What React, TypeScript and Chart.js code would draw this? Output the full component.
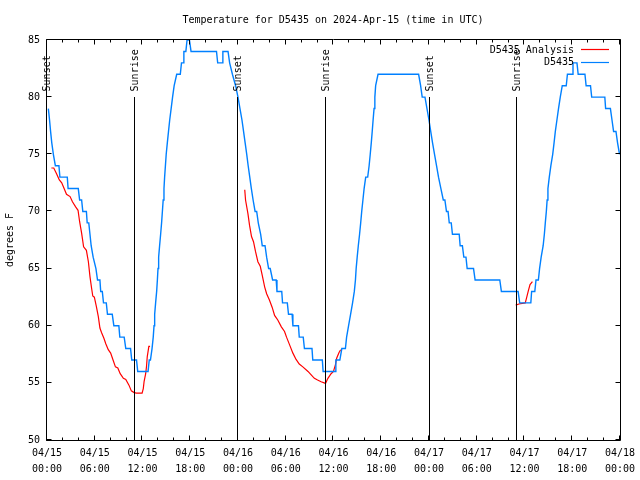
import React, { useEffect, useRef } from 'react';
import { Chart, registerables } from 'chart.js';

Chart.register(...registerables);

const FONT = "'DejaVu Sans Mono', monospace";
const TITLE = 'Temperature for D5435 on 2024-Apr-15 (time in UTC)';
const Y_TITLE = 'degrees F';
const SERIES_NAMES = ['D5435 Analysis', 'D5435'];
const SERIES_COLORS = ['rgb(255,0,0)', 'rgb(0,128,255)'];

const X_TICK_DATES = ['04/15', '04/15', '04/15', '04/15', '04/16', '04/16', '04/16', '04/16', '04/17', '04/17', '04/17', '04/17', '04/18'];
const X_TICK_TIMES = ['00:00', '06:00', '12:00', '18:00', '00:00', '06:00', '12:00', '18:00', '00:00', '06:00', '12:00', '18:00', '00:00'];

// Sun events (hours since 04/15 00:00 UTC)
const SUN_HOURS = [0, 11.08, 24.0, 35.0, 48.12, 59.07];
const SUN_LABELS = ['Sunset', 'Sunrise', 'Sunset', 'Sunrise', 'Sunset', 'Sunrise'];
const SUN_LINE_TOP = 80;
const SUN_LABEL_AT = 80.5;

// Observations D5435 (hours, deg F)
const obsHours = [
  0.17, 0.32, 0.45, 0.6, 0.8, 1.05, 1.5, 1.62, 2.55, 2.65, 3.93, 4.1, 4.35, 4.5, 4.95, 5.05, 5.25, 5.4, 5.55, 5.8,
  6.15, 6.35, 6.65, 6.75, 6.95, 7.1, 7.45, 7.6, 8.2, 8.4, 9.03, 9.15, 9.7, 9.9, 10.5, 10.65, 11.25, 11.4, 12.7, 12.85,
  13.0, 13.2, 13.35, 13.45, 13.53, 13.65, 13.78, 13.87, 13.95, 14.03, 14.15, 14.28, 14.4, 14.5, 14.6, 14.7, 14.78, 14.88, 14.98, 15.12,
  15.27, 15.42, 15.6, 15.78, 15.98, 16.3, 16.75, 16.9, 17.1, 17.2, 17.45, 17.6, 17.9, 18.1, 21.3, 21.45, 22.0, 22.1, 22.75, 22.95,
  23.3, 23.7, 24.0, 24.25, 24.5, 24.7, 24.9, 25.1, 25.28, 25.48, 25.68, 25.9, 26.15, 26.35, 26.55, 26.85, 27.05, 27.4, 27.6, 27.85,
  28.05, 28.35, 28.8, 28.9, 29.5, 29.6, 30.2, 30.35, 30.8, 30.9, 31.6, 31.7, 32.2, 32.35, 33.3, 33.4, 34.6, 34.7, 36.2, 36.3,
  36.8, 37.05, 37.5, 37.65, 37.9, 38.15, 38.4, 38.62, 38.76, 38.85, 38.98, 39.12, 39.28, 39.42, 39.55, 39.7, 39.85, 40.05, 40.3, 40.48,
  40.62, 40.75, 40.87, 40.98, 41.1, 41.2, 41.3, 41.6, 46.7, 46.95, 47.15, 47.5, 47.75, 48.0, 48.22, 48.45, 48.7, 48.95, 49.2, 49.5,
  49.8, 50.0, 50.2, 50.4, 50.55, 50.8, 50.95, 51.8, 51.92, 52.2, 52.38, 52.65, 52.8, 53.6, 53.8, 56.9, 57.1, 59.2, 59.4, 60.8,
  60.9, 61.3, 61.45, 61.75, 61.9, 62.1, 62.35, 62.5, 62.62, 62.75, 62.85, 62.95, 63.12, 63.32, 63.55, 63.72, 63.88, 64.08, 64.28, 64.5,
  64.75, 65.25, 65.4, 66.0, 66.1, 66.6, 66.75, 67.6, 67.75, 68.3, 68.45, 70.1, 70.2, 70.8, 71.0, 71.2, 71.5, 71.7, 71.95,
];
const obsTemps = [
  79, 78, 77, 76, 75, 74, 74, 73, 73, 72, 72, 71, 71, 70, 70, 69, 69, 68, 67, 66,
  65, 64, 64, 63, 63, 62, 62, 61, 61, 60, 60, 59, 59, 58, 58, 57, 57, 56, 56, 57,
  57, 58, 59, 60, 61, 62, 63, 64, 65, 66, 67, 68, 69, 70, 71, 72, 73, 74, 75, 76,
  77, 78, 79, 80, 81, 82, 82, 83, 83, 84, 84, 85, 85, 84, 84, 83, 83, 84, 84, 83,
  82, 81, 80, 79, 78, 77, 76, 75, 74, 73, 72, 71, 70, 70, 69, 68, 67, 67, 66, 65,
  65, 64, 64, 63, 63, 62, 62, 61, 61, 60, 60, 59, 59, 58, 58, 57, 57, 56, 56, 57,
  57, 58, 58, 59, 60, 61, 62, 63, 64, 65, 66, 67, 68, 69, 70, 71, 72, 73, 73, 74,
  75, 76, 77, 78, 79, 80, 81, 82, 82, 81, 80, 80, 79, 78, 77, 76, 75, 74, 73, 72,
  71, 71, 70, 70, 69, 69, 68, 68, 67, 67, 66, 66, 65, 65, 64, 64, 63, 63, 62, 62,
  63, 63, 64, 64, 65, 66, 67, 68, 69, 70, 71, 72, 73, 74, 75, 76, 77, 78, 79, 80,
  81, 81, 82, 82, 83, 83, 82, 82, 81, 81, 80, 80, 79, 79, 78, 77, 77, 76, 75,
];

// Analysis D5435 (hours, deg F); null marks a gap
const anaHours = [
  0.55, 0.85, 1.2, 1.55, 1.85, 2.15, 2.45, 2.9, 3.2, 3.6, 3.9, 4.1, 4.35, 4.6, 4.95, 5.2, 5.4, 5.6, 5.75, 5.95,
  6.2, 6.45, 6.65, 6.85, 7.15, 7.4, 7.7, 8.0, 8.3, 8.6, 8.9, 9.2, 9.6, 9.9, 10.3, 10.6, 10.95, 11.25, 11.95, 12.1,
  12.2, 12.4, 12.5, 12.6, 12.8, 12.95, 18.0,
  24.85, 24.95, 25.25, 25.45, 25.7, 25.95, 26.2, 26.5, 26.8, 27.05, 27.35, 27.6, 27.95, 28.3, 28.6, 29.0, 29.45, 29.85, 30.1, 30.5,
  30.9, 31.3, 31.7, 32.15, 32.8, 33.2, 33.6, 34.0, 34.45, 35.0, 35.3, 35.7, 36.0, 36.25, 36.4, 36.7, 36.9, 45.0,
  58.9, 59.3, 60.1, 60.25, 60.5, 60.7, 61.0,
];
const anaTemps = [
  73.8, 73.8, 73.3, 72.75, 72.5, 72.0, 71.5, 71.3, 70.85, 70.4, 70.1, 69.1, 68.1, 66.9, 66.6, 65.6, 64.3, 63.3, 62.6, 62.5,
  61.7, 60.8, 59.8, 59.4, 58.9, 58.4, 57.9, 57.6, 57.0, 56.4, 56.3, 55.8, 55.4, 55.3, 54.8, 54.3, 54.15, 54.1, 54.1, 54.5,
  55.1, 55.8, 56.4, 57.3, 58.2, 58.2, null,
  71.9, 71.0, 69.8, 68.8, 67.8, 67.35, 66.5, 65.6, 65.2, 64.4, 63.4, 62.8, 62.25, 61.6, 60.9, 60.5, 59.9, 59.5, 59.0, 58.3,
  57.6, 57.05, 56.65, 56.4, 56.0, 55.7, 55.4, 55.25, 55.1, 54.95, 55.4, 55.8, 56.0, 56.6, 57.15, 57.65, 57.9, null,
  61.8, 61.9, 62.0, 62.4, 63.1, 63.6, 63.85,
];

const decorPlugin = {
  id: 'gnuplotDecor',
  afterDatasetsDraw(chart: any) {
    const { ctx, chartArea, scales } = chart;
    const x = scales.x;
    const y = scales.y;
    const L = Math.round(chartArea.left) - 0.5;
    const R = Math.round(chartArea.right) + 0.5;
    const T = Math.round(chartArea.top) - 0.5;
    const B = Math.round(chartArea.bottom) + 0.5;
    ctx.save();
    ctx.strokeStyle = '#000';
    ctx.fillStyle = '#000';
    ctx.lineWidth = 1;
    ctx.font = `10px ${FONT}`;

    // sunrise / sunset markers
    const yTop = y.getPixelForValue(SUN_LINE_TOP);
    const yLab = y.getPixelForValue(SUN_LABEL_AT);
    SUN_HOURS.forEach((h, i) => {
      const px = Math.round(x.getPixelForValue(h)) - 0.5;
      ctx.beginPath();
      ctx.moveTo(px, Math.round(yTop));
      ctx.lineTo(px, B);
      ctx.stroke();
      ctx.save();
      ctx.translate(px + 0.5, yLab);
      ctx.rotate(-Math.PI / 2);
      ctx.textAlign = 'left';
      ctx.textBaseline = 'middle';
      ctx.fillText(SUN_LABELS[i], 0, 0);
      ctx.restore();
    });

    // frame
    ctx.beginPath();
    ctx.rect(L, T, R - L, B - T);
    ctx.stroke();

    // x ticks (major 6h, minor 2h), bottom and top, inward
    ctx.beginPath();
    for (let h = 0; h <= 72; h += 2) {
      const px = Math.round(x.getPixelForValue(h)) - 0.5;
      const len = h % 6 === 0 ? 5 : 3;
      ctx.moveTo(px, B);
      ctx.lineTo(px, B - len);
      ctx.moveTo(px, T);
      ctx.lineTo(px, T + len);
    }
    // y ticks, left and right, inward
    for (let v = 50; v <= 85; v += 5) {
      const py = Math.round(y.getPixelForValue(v)) - 0.5;
      ctx.moveTo(L, py);
      ctx.lineTo(L + 5, py);
      ctx.moveTo(R, py);
      ctx.lineTo(R - 5, py);
    }
    ctx.stroke();

    // legend
    const ds = chart.data.datasets;
    ctx.textAlign = 'right';
    ctx.textBaseline = 'middle';
    ds.forEach((d: any, i: number) => {
      const ly = 50 + i * 12.5;
      ctx.fillStyle = '#000';
      ctx.fillText(d.label, 574, ly);
      ctx.strokeStyle = d.borderColor;
      ctx.lineWidth = 1.2;
      ctx.beginPath();
      ctx.moveTo(581, Math.round(ly) - 0.5);
      ctx.lineTo(609, Math.round(ly) - 0.5);
      ctx.stroke();
    });

    // title
    ctx.fillStyle = '#000';
    ctx.textAlign = 'center';
    ctx.textBaseline = 'middle';
    ctx.fillText(TITLE, 333, 20);
    ctx.restore();
  },
};

export default function App() {
  const ref = useRef<HTMLCanvasElement | null>(null);

  useEffect(() => {
    if (!ref.current) return;
    const red = anaHours.map((h, i) => ({ x: h, y: anaTemps[i] }));
    const blue = obsHours.map((h, i) => ({ x: h, y: obsTemps[i] }));
    const chart = new Chart(ref.current, {
      type: 'line',
      data: {
        datasets: [
          {
            label: SERIES_NAMES[0],
            data: red,
            borderColor: SERIES_COLORS[0],
            backgroundColor: SERIES_COLORS[0],
            borderWidth: 1.2,
            pointRadius: 0,
            spanGaps: false,
            tension: 0,
            order: 1,
          },
          {
            label: SERIES_NAMES[1],
            data: blue,
            borderColor: SERIES_COLORS[1],
            backgroundColor: SERIES_COLORS[1],
            borderWidth: 1.4,
            pointRadius: 0,
            tension: 0,
            order: 0,
          },
        ],
      },
      options: {
        animation: false,
        responsive: false,
        devicePixelRatio: 1,
        parsing: false as any,
        normalized: true,
        layout: { padding: { top: 40, right: 19, left: 0, bottom: 0 } },
        plugins: {
          legend: { display: false },
          title: { display: false },
          tooltip: { enabled: false },
        },
        scales: {
          x: {
            type: 'linear',
            min: 0,
            max: 72,
            grid: { display: false, drawTicks: false },
            border: { display: false },
            ticks: {
              stepSize: 6,
              autoSkip: false,
              maxRotation: 0,
              padding: 5,
              color: '#000',
              font: { family: FONT, size: 10, lineHeight: 1.6 },
              callback: (v: any) => {
                const i = Math.round(Number(v) / 6);
                return [X_TICK_DATES[i], X_TICK_TIMES[i]];
              },
            },
            afterFit: (s: any) => {
              s.height = 40;
            },
          },
          y: {
            min: 50,
            max: 85,
            grid: { display: false, drawTicks: false },
            border: { display: false },
            ticks: {
              stepSize: 5,
              padding: 7,
              color: '#000',
              font: { family: FONT, size: 10 },
            },
            title: {
              display: true,
              text: Y_TITLE,
              color: '#000',
              font: { family: FONT, size: 10 },
              padding: { top: 4, bottom: 0 },
            },
            afterFit: (s: any) => {
              s.width = 47;
            },
          },
        },
      },
      plugins: [decorPlugin],
    });
    return () => chart.destroy();
  }, []);

  return (
    <div style={{ position: 'absolute', left: 0, top: 0, width: 640, height: 480, background: '#fff' }}>
      <canvas ref={ref} width={640} height={480} style={{ width: 640, height: 480 }} />
    </div>
  );
}
